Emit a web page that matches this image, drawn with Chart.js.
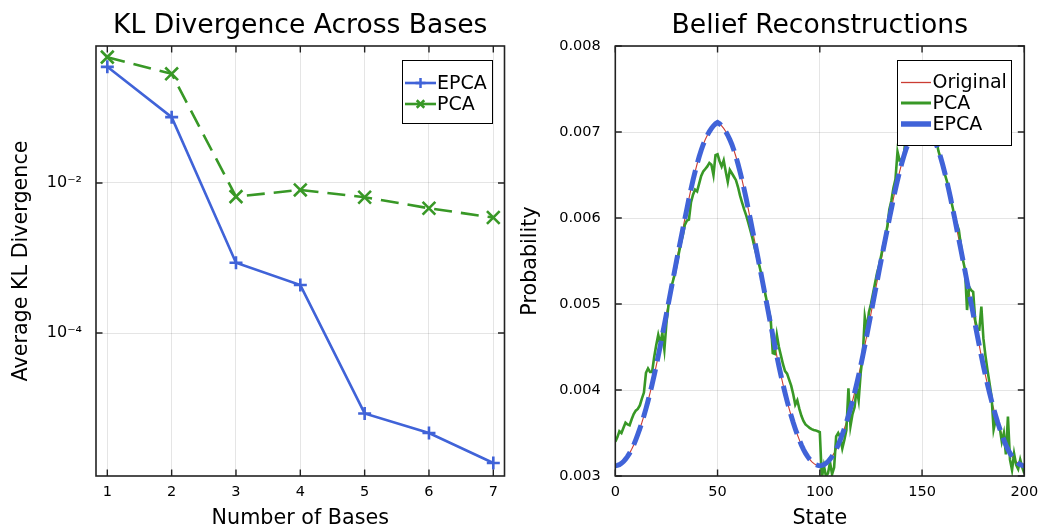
<!DOCTYPE html>
<html><head><meta charset="utf-8">
<script src="https://cdn.jsdelivr.net/npm/chart.js@4.4.0/dist/chart.umd.min.js"></script>
<style>
html,body{margin:0;padding:0;background:#fff;}
#wrap{position:relative;width:1040px;height:529px;overflow:hidden;}
.c{position:absolute;top:0;width:520px;height:529px;}
</style></head><body>
<div id="wrap">
<div class="c" style="left:0"><canvas id="left" width="520" height="529"></canvas></div>
<div class="c" style="left:520px"><canvas id="right" width="520" height="529"></canvas></div>
</div>
<script>
// ---------- Left chart data ----------
const bases = [1, 2, 3, 4, 5, 6, 7];
const epcaKL = [0.352, 0.0752, 8.65e-4, 4.36e-4, 8.5e-6, 4.67e-6, 1.86e-6];
const pcaKL = [0.474, 0.284, 6.57e-3, 8.07e-3, 6.45e-3, 4.6e-3, 3.46e-3];
const baseTickValues = [1, 2, 3, 4, 5, 6, 7];
const baseTickLabels = ['1', '2', '3', '4', '5', '6', '7'];
const klTickValues = [1e-2, 1e-4];
const klTickLabels = ['10\u207B\u00B2', '10\u207B\u2074'];

// ---------- Right chart data ----------
const states = Array.from({length: 201}, (_, i) => i);
const originalValues = [
0.003120,0.003123,0.003132,0.003147,0.003168,0.003195,0.003228,0.003266,0.003310,0.003360,
0.003420,0.003483,0.003550,0.003622,0.003700,0.003783,0.003872,0.003966,0.004065,0.004170,
0.004280,0.004395,0.004515,0.004637,0.004760,0.004885,0.005010,0.005135,0.005260,0.005385,
0.005508,0.005630,0.005750,0.005868,0.005990,0.006105,0.006225,0.006335,0.006440,0.006537,
0.006628,0.006712,0.006788,0.006855,0.006912,0.006962,0.007005,0.007042,0.007072,0.007095,
0.007110,
0.007095,0.007072,0.007042,0.007005,0.006962,0.006912,0.006855,0.006788,0.006712,0.006628,
0.006537,0.006440,0.006335,0.006225,0.006105,0.005990,0.005868,0.005750,0.005630,0.005508,
0.005385,0.005260,0.005135,0.005010,0.004885,0.004760,0.004637,0.004515,0.004395,0.004280,
0.004170,0.004065,0.003966,0.003872,0.003783,0.003700,0.003622,0.003550,0.003483,0.003420,
0.003360,0.003310,0.003266,0.003228,0.003195,0.003168,0.003147,0.003132,0.003123,0.003120,
0.003123,0.003132,0.003147,0.003168,0.003195,0.003228,0.003266,0.003310,0.003360,0.003420,
0.003483,0.003550,0.003622,0.003700,0.003783,0.003872,0.003966,0.004065,0.004170,0.004280,
0.004395,0.004515,0.004637,0.004760,0.004885,0.005010,0.005135,0.005260,0.005385,0.005508,
0.005630,0.005750,0.005868,0.005990,0.006105,0.006225,0.006335,0.006440,0.006537,0.006628,
0.006712,0.006788,0.006855,0.006912,0.006962,0.007005,0.007042,0.007072,0.007095,0.007110,
0.007095,0.007072,0.007042,0.007005,0.006962,0.006912,0.006855,0.006788,0.006712,0.006628,
0.006537,0.006440,0.006335,0.006225,0.006105,0.005990,0.005868,0.005750,0.005630,0.005508,
0.005385,0.005260,0.005135,0.005010,0.004885,0.004760,0.004637,0.004515,0.004395,0.004280,
0.004170,0.004065,0.003966,0.003872,0.003783,0.003700,0.003622,0.003550,0.003483,0.003420,
0.003360,0.003310,0.003266,0.003228,0.003195,0.003168,0.003147,0.003132,0.003123,0.003120
];
const pcaValues = [
0.00340,0.00345,0.00352,0.00350,0.00356,0.00362,0.00360,0.00359,0.00366,0.00372,
0.00376,0.00378,0.00382,0.00390,0.00397,0.00420,0.00425,0.00421,0.00421,0.00438,
0.00452,0.00464,0.00454,0.00466,0.00447,0.00478,0.00498,0.00516,0.00525,0.00534,
0.00546,0.00558,0.00570,0.00580,0.00592,0.00597,0.00598,0.00618,0.00627,0.00633,
0.00631,0.00640,0.00649,0.00654,0.00657,0.00660,0.00664,0.00662,0.00650,0.00673,
0.00674,0.00666,0.00660,0.00667,0.00654,0.00642,0.00656,0.00652,0.00648,0.00644,
0.00636,0.00626,0.00618,0.00610,0.00603,0.00595,0.00586,0.00577,0.00567,0.00558,
0.00549,0.00539,0.00528,0.00516,0.00504,0.00493,0.00482,0.00443,0.00442,0.00464,
0.00450,0.00440,0.00430,0.00422,0.00419,0.00412,0.00405,0.00395,0.00383,0.00388,
0.00378,0.00370,0.00364,0.00360,0.00358,0.00356,0.003545,0.003535,0.00353,0.00352,
0.00351,0.00298,0.00312,0.00300,0.00303,0.00316,0.00302,0.00310,0.00346,0.00350,
0.00345,0.00332,0.00342,0.003535,0.00402,0.00358,0.00372,0.00380,0.00402,0.00388,
0.00420,0.00440,0.00485,0.00470,0.00490,0.00500,0.00512,0.00524,0.00536,0.00545,
0.00556,0.00568,0.00577,0.00590,0.00610,0.00620,0.00635,0.00645,0.00677,0.00667,
0.00668,0.00672,0.00693,0.00697,0.00700,0.00703,0.00705,0.00708,0.00707,0.00710,
0.00709,0.00708,0.00706,0.00702,0.00699,0.00695,0.00693,0.00690,0.00678,0.00670,
0.00662,0.00652,0.00644,0.00635,0.00622,0.00612,0.00600,0.00593,0.00586,0.00568,
0.00551,0.00540,0.00493,0.00520,0.00516,0.00514,0.00481,0.00470,0.00470,0.00497,
0.00460,0.00440,0.00423,0.00408,0.00392,0.00354,0.00365,0.00362,0.00356,0.00340,
0.00350,0.00325,0.00369,0.00319,0.00307,0.00326,0.00313,0.00308,0.00319,0.00310,
0.00303
];
const epcaValues = [
0.003120,0.003123,0.003132,0.003147,0.003168,0.003195,0.003228,0.003266,0.003310,0.003360,
0.003420,0.003483,0.003550,0.003622,0.003700,0.003783,0.003872,0.003966,0.004065,0.004170,
0.004280,0.004395,0.004515,0.004637,0.004760,0.004885,0.005010,0.005135,0.005260,0.005385,
0.005508,0.005630,0.005750,0.005868,0.005990,0.006105,0.006225,0.006335,0.006440,0.006537,
0.006628,0.006712,0.006788,0.006855,0.006912,0.006962,0.007005,0.007042,0.007072,0.007095,
0.007110,
0.007095,0.007072,0.007042,0.007005,0.006962,0.006912,0.006855,0.006788,0.006712,0.006628,
0.006537,0.006440,0.006335,0.006225,0.006105,0.005990,0.005868,0.005750,0.005630,0.005508,
0.005385,0.005260,0.005135,0.005010,0.004885,0.004760,0.004637,0.004515,0.004395,0.004280,
0.004170,0.004065,0.003966,0.003872,0.003783,0.003700,0.003622,0.003550,0.003483,0.003420,
0.003360,0.003310,0.003266,0.003228,0.003195,0.003168,0.003147,0.003132,0.003123,0.003120,
0.003123,0.003132,0.003147,0.003168,0.003195,0.003228,0.003266,0.003310,0.003360,0.003420,
0.003483,0.003550,0.003622,0.003700,0.003783,0.003872,0.003966,0.004065,0.004170,0.004280,
0.004395,0.004515,0.004637,0.004760,0.004885,0.005010,0.005135,0.005260,0.005385,0.005508,
0.005630,0.005750,0.005868,0.005990,0.006105,0.006225,0.006335,0.006440,0.006537,0.006628,
0.006712,0.006788,0.006855,0.006912,0.006962,0.007005,0.007042,0.007072,0.007095,0.007110,
0.007095,0.007072,0.007042,0.007005,0.006962,0.006912,0.006855,0.006788,0.006712,0.006628,
0.006537,0.006440,0.006335,0.006225,0.006105,0.005990,0.005868,0.005750,0.005630,0.005508,
0.005385,0.005260,0.005135,0.005010,0.004885,0.004760,0.004637,0.004515,0.004395,0.004280,
0.004170,0.004065,0.003966,0.003872,0.003783,0.003700,0.003622,0.003550,0.003483,0.003420,
0.003360,0.003310,0.003266,0.003228,0.003195,0.003168,0.003147,0.003132,0.003123,0.003120
];
const stateTickValues = [0, 50, 100, 150, 200];
const stateTickLabels = ['0', '50', '100', '150', '200'];
const probTickValues = [0.003, 0.004, 0.005, 0.006, 0.007, 0.008];
const probTickLabels = ['0.003', '0.004', '0.005', '0.006', '0.007', '0.008'];

// ---------- Styles ----------
const FONT = 'DejaVu Sans';
const BLUE = '#4063D8', GREEN = '#389826', RED = '#CB3C33';
const GRID = 'rgba(0,0,0,0.10)';
Chart.defaults.font.family = FONT;
Chart.defaults.color = '#000';

function drawMarker(ctx, style, x, y, r) {
  ctx.beginPath();
  if (style === 'cross') {
    ctx.moveTo(x - r, y); ctx.lineTo(x + r, y);
    ctx.moveTo(x, y - r); ctx.lineTo(x, y + r);
  } else {
    const d = r * 0.75;
    ctx.moveTo(x - d, y - d); ctx.lineTo(x + d, y + d);
    ctx.moveTo(x - d, y + d); ctx.lineTo(x + d, y - d);
  }
  ctx.stroke();
}

const framePlugin = {
  id: 'frameAndText',
  afterDraw(chart, args, opts) {
    const {ctx, chartArea: a, scales} = chart;
    ctx.save();
    ctx.strokeStyle = '#222';
    ctx.lineWidth = 1.6;
    ctx.strokeRect(a.left, a.top, a.right - a.left, a.bottom - a.top);
    ctx.lineWidth = 1.4;
    const L = 6.5;
    ctx.beginPath();
    scales.x.ticks.forEach(t => {
      const x = scales.x.getPixelForValue(t.value);
      ctx.moveTo(x, a.bottom); ctx.lineTo(x, a.bottom - L);
      ctx.moveTo(x, a.top); ctx.lineTo(x, a.top + L);
    });
    scales.y.ticks.forEach(t => {
      const y = scales.y.getPixelForValue(t.value);
      ctx.moveTo(a.left, y); ctx.lineTo(a.left + L, y);
      ctx.moveTo(a.right, y); ctx.lineTo(a.right - L, y);
    });
    ctx.stroke();
    // title
    ctx.fillStyle = '#000';
    ctx.font = '26.6px "' + FONT + '"';
    ctx.textAlign = 'center';
    ctx.textBaseline = 'alphabetic';
    ctx.fillText(opts.title, (a.left + a.right) / 2, 33);
    // legend
    const lg = opts.legend;
    ctx.fillStyle = '#fff';
    ctx.fillRect(lg.x, lg.y, lg.w, lg.h);
    ctx.strokeStyle = '#000';
    ctx.lineWidth = 1;
    ctx.strokeRect(lg.x + 0.5, lg.y + 0.5, lg.w, lg.h);
    ctx.font = '19px "' + FONT + '"';
    ctx.textAlign = 'left';
    ctx.textBaseline = 'middle';
    lg.items.forEach(it => {
      ctx.strokeStyle = it.color;
      ctx.lineWidth = it.width;
      ctx.setLineDash([]);
      ctx.beginPath();
      ctx.moveTo(lg.lineX0, it.y); ctx.lineTo(lg.lineX1, it.y);
      ctx.stroke();
      if (it.marker) {
        ctx.lineWidth = 2.5;
        drawMarker(ctx, it.marker, (lg.lineX0 + lg.lineX1) / 2, it.y, 5);
      }
      ctx.fillStyle = '#000';
      ctx.fillText(it.label, lg.textX, it.y + 1);
    });
    ctx.restore();
  }
};

function fitX(s) { s.height = 53; s.paddingLeft = 0; s.paddingRight = 0; }
function fitY(w) { return s => { s.width = w; s.paddingTop = 0; s.paddingBottom = 0; }; }

// ---------- Left chart ----------
new Chart(document.getElementById('left'), {
  type: 'line',
  data: {
    labels: bases,
    datasets: [
      { label: 'EPCA', data: epcaKL, borderColor: BLUE, backgroundColor: BLUE, borderWidth: 2.6,
        pointStyle: 'cross', pointRadius: 6.5, pointBorderWidth: 2.6, pointBorderColor: BLUE, tension: 0, order: 0 },
      { label: 'PCA', data: pcaKL, borderColor: GREEN, backgroundColor: GREEN, borderWidth: 2.6,
        borderDash: [18, 9], pointStyle: 'crossRot', pointRadius: 9, pointBorderWidth: 2.6, pointBorderColor: GREEN, tension: 0, order: 1 }
    ]
  },
  options: {
    responsive: false, animation: false, events: [],
    layout: { padding: { top: 46, right: 15.5, bottom: 0, left: 0 } },
    plugins: {
      legend: { display: false }, tooltip: { enabled: false },
      frameAndText: {
        title: 'KL Divergence Across Bases',
        legend: { x: 402, y: 60, w: 90, h: 63, lineX0: 405, lineX1: 436, textX: 437,
          items: [
            { label: 'EPCA', color: BLUE, width: 2.6, marker: 'cross', y: 83 },
            { label: 'PCA', color: GREEN, width: 2.6, marker: 'crossRot', y: 104 }
          ] }
      }
    },
    scales: {
      x: {
        type: 'linear', min: 0.824, max: 7.174, bounds: 'data',
        afterBuildTicks: s => { s.ticks = baseTickValues.map(v => ({ value: v })); },
        afterFit: fitX,
        ticks: { callback: (v, i) => baseTickLabels[i], font: { size: 14.5 }, color: '#000', padding: 8, maxRotation: 0, autoSkip: false },
        grid: { color: GRID, lineWidth: 1, drawTicks: false },
        border: { display: false },
        title: { display: true, text: 'Number of Bases', font: { size: 20.7, lineHeight: 1.0 }, color: '#000', padding: { top: 0, bottom: 0 } }
      },
      y: {
        type: 'logarithmic', min: 1.247e-6, max: 0.667, bounds: 'data',
        afterBuildTicks: s => { s.ticks = klTickValues.map(v => ({ value: v })); },
        afterFit: fitY(96),
        ticks: { callback: (v, i) => klTickLabels[i], font: { size: 16 }, color: '#000', padding: 14, autoSkip: false },
        grid: { color: GRID, lineWidth: 1, drawTicks: false },
        border: { display: false },
        title: { display: true, text: 'Average KL Divergence', font: { size: 20.7, lineHeight: 1.0 }, color: '#000', padding: { top: 11, bottom: 0 } }
      }
    }
  },
  plugins: [framePlugin]
});

// ---------- Right chart ----------
new Chart(document.getElementById('right'), {
  type: 'line',
  data: {
    labels: states,
    datasets: [
      { label: 'Original', data: originalValues, borderColor: RED, borderWidth: 1.1, pointRadius: 0, tension: 0, order: 2 },
      { label: 'PCA', data: pcaValues, borderColor: GREEN, borderWidth: 2.6, pointRadius: 0, tension: 0, order: 1 },
      { label: 'EPCA', data: epcaValues, borderColor: BLUE, borderWidth: 5, borderDash: [21, 8], borderCapStyle: 'butt', pointRadius: 0, tension: 0, order: 0 }
    ]
  },
  options: {
    responsive: false, animation: false, events: [],
    layout: { padding: { top: 46, right: 15.7, bottom: 0, left: 0 } },
    plugins: {
      legend: { display: false }, tooltip: { enabled: false },
      frameAndText: {
        title: 'Belief Reconstructions',
        legend: { x: 377, y: 60, w: 114, h: 85, lineX0: 381, lineX1: 411, textX: 412.5,
          items: [
            { label: 'Original', color: RED, width: 1.3, y: 82.5 },
            { label: 'PCA', color: GREEN, width: 3, y: 103 },
            { label: 'EPCA', color: BLUE, width: 5.5, y: 124 }
          ] }
      }
    },
    scales: {
      x: {
        type: 'linear', min: 0, max: 200, bounds: 'data',
        afterBuildTicks: s => { s.ticks = stateTickValues.map(v => ({ value: v })); },
        afterFit: fitX,
        ticks: { callback: (v, i) => stateTickLabels[i], font: { size: 14.5 }, color: '#000', padding: 8, maxRotation: 0, autoSkip: false },
        grid: { color: GRID, lineWidth: 1, drawTicks: false },
        border: { display: false },
        title: { display: true, text: 'State', font: { size: 20.7, lineHeight: 1.0 }, color: '#000', padding: { top: 0, bottom: 0 } }
      },
      y: {
        type: 'linear', min: 0.003, max: 0.008, bounds: 'data',
        afterBuildTicks: s => { s.ticks = probTickValues.map(v => ({ value: v })); },
        afterFit: fitY(95.3),
        ticks: { callback: (v, i) => probTickLabels[i], font: { size: 14.5 }, color: '#000', padding: 14.5, autoSkip: false },
        grid: { color: GRID, lineWidth: 1, drawTicks: false },
        border: { display: false },
        title: { display: true, text: 'Probability', font: { size: 20.7, lineHeight: 1.0 }, color: '#000', padding: { top: 0.5, bottom: 0 } }
      }
    }
  },
  plugins: [framePlugin]
});
</script>
</body></html>
